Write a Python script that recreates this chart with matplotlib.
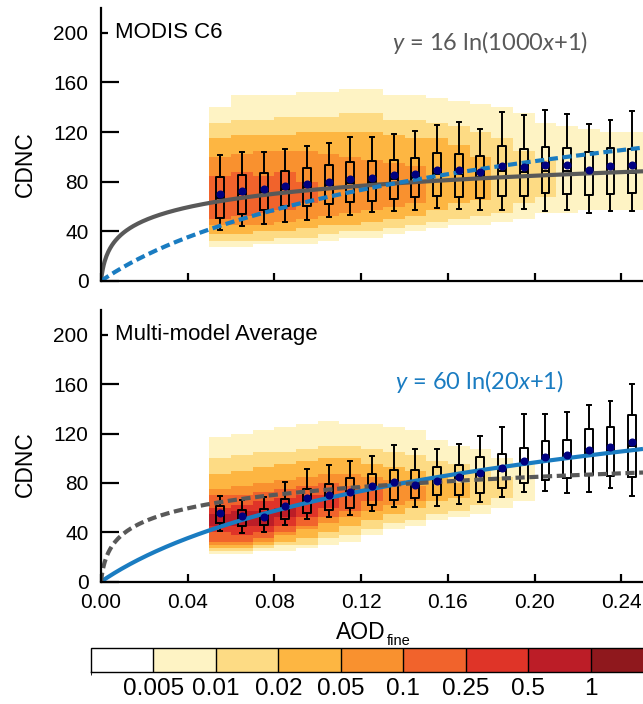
import numpy as np
import matplotlib
matplotlib.use("Agg")
import matplotlib as mpl
import matplotlib.pyplot as plt
from matplotlib.colors import ListedColormap, BoundaryNorm

plt.rcParams['font.family'] = ['Liberation Sans', 'DejaVu Sans']
plt.rcParams['mathtext.fontset'] = 'custom'
plt.rcParams['mathtext.rm'] = 'Lato'
plt.rcParams['mathtext.it'] = 'Lato:italic'

nan = np.nan

# colour classes of the 2D histogram (relative frequency)
cb_bounds = [0, 0.005, 0.01, 0.02, 0.05, 0.1, 0.25, 0.5, 1, 2]
cb_labels = ['0.005', '0.01', '0.02', '0.05', '0.1', '0.25', '0.5', '1']
cb_colors = ['#ffffff', '#fef3c4', '#fddb84', '#fdb642', '#f9912f',
             '#f1632c', '#df3428', '#bc1d27', '#8f181d']

# AOD_fine bins of the histogram / box plots
col_edges = [0.05, 0.06, 0.07, 0.08, 0.09, 0.10, 0.11, 0.12, 0.13, 0.14, 0.15,
             0.16, 0.17, 0.18, 0.19, 0.20, 0.21, 0.22, 0.23, 0.24, 0.25]
box_x = [0.055, 0.065, 0.075, 0.085, 0.095, 0.105, 0.115, 0.125, 0.135, 0.145,
         0.155, 0.165, 0.175, 0.185, 0.195, 0.205, 0.215, 0.225, 0.235, 0.245]

# --- MODIS C6: CDNC range covered by each colour class, per AOD column
top_lo = {
    1: [28, 28, 29, 30, 31, 33, 34, 36, 38, 40, 42, 45, 46, 48, 50, 55, 56, 58, 58, 58],
    2: [32, 32, 33, 34, 35, 37, 39, 40, 43, 45, 48, 50, 52, 55, 62, 68, nan, nan, nan, nan],
    3: [38, 38, 39, 40, 42, 44, 46, 48, 50, 52, 58, 62, 66, nan, nan, nan, nan, nan, nan, nan],
    4: [44, 44, 46, 47, 50, 52, 55, 57, 60, 62, nan, nan, nan, nan, nan, nan, nan, nan, nan, nan],
    5: [50, 52, 55, 58, 62, nan, nan, nan, nan, nan, nan, nan, nan, nan, nan, nan, nan, nan, nan, nan],
}
top_hi = {
    1: [140, 150, 150, 150, 152, 152, 155, 155, 150, 150, 148, 145, 142, 140, 135, 128, 125, 122, 120, 120],
    2: [128, 130, 130, 132, 132, 133, 135, 135, 130, 130, 128, 125, 120, 115, 105, 98, nan, nan, nan, nan],
    3: [115, 117, 118, 118, 120, 120, 120, 120, 118, 115, 115, 110, 100, nan, nan, nan, nan, nan, nan, nan],
    4: [100, 102, 104, 104, 104, 102, 100, 98, 95, 92, nan, nan, nan, nan, nan, nan, nan, nan, nan, nan],
    5: [85, 88, 85, 88, 80, nan, nan, nan, nan, nan, nan, nan, nan, nan, nan, nan, nan, nan, nan, nan],
}
top_whislo = [41.3, 44.0, 46.1, 47.5, 49.4, 51.2, 53.4, 55.3, 56.4, 57.4,
              59.1, 58.0, 57.2, 57.2, 58.0, 56.4, 56.9, 55.0, 56.6, 56.1]
top_q1 = [50.7, 54.2, 57.4, 60.1, 60.7, 62.3, 63.4, 64.7, 66.3, 68.0,
          68.8, 67.7, 67.2, 68.2, 68.8, 70.7, 70.1, 69.6, 70.1, 71.2]
top_med = [67, 70, 72, 74, 76, 77, 79, 80, 82, 83,
           86, 86, 84, 89, 88, 89, 89, 86, 88, 87]
top_mean = [70.1, 72.8, 74.4, 76.3, 78.2, 79.6, 82.0, 83.3, 85.2, 86.0,
            89.8, 89.3, 87.6, 92.8, 92.2, 93.6, 93.6, 89.8, 92.8, 93.6]
top_q3 = [83.6, 85.5, 87.1, 89.0, 90.9, 93.3, 95.7, 96.5, 97.9, 99.2,
          103.3, 102.2, 100.9, 108.7, 106.0, 107.9, 106.8, 103.6, 107.3, 106.0]
top_whishi = [101.9, 103.8, 103.8, 106.0, 108.7, 111.1, 116.0, 116.0, 118.7, 120.6,
              125.4, 128.1, 122.2, 136.5, 133.7, 137.8, 134.8, 126.8, 129.7, 137.0]

# --- Multi-model average
bot_lo = {
    1: [22, 22, 24, 26, 28, 30, 33, 38, 42, 46, 50, 52, 55, 60, 65, nan, nan, nan, nan, nan],
    2: [26, 25, 27, 29, 31, 34, 38, 42, 47, 51, 56, 58, 62, 68, nan, nan, nan, nan, nan, nan],
    3: [28, 27, 30, 33, 36, 40, 45, 50, 55, 60, 64, 68, nan, nan, nan, nan, nan, nan, nan, nan],
    4: [31, 30, 33, 37, 42, 48, 52, 58, 62, 66, nan, nan, nan, nan, nan, nan, nan, nan, nan, nan],
    5: [33, 33, 36, 40, 46, 53, 58, 64, nan, nan, nan, nan, nan, nan, nan, nan, nan, nan, nan, nan],
    6: [39, 37, 40, 45, 52, 60, nan, nan, nan, nan, nan, nan, nan, nan, nan, nan, nan, nan, nan, nan],
    7: [45, 44, 45, 52, nan, nan, nan, nan, nan, nan, nan, nan, nan, nan, nan, nan, nan, nan, nan, nan],
}
bot_hi = {
    1: [118, 120, 122, 125, 128, 130, 128, 128, 125, 122, 115, 110, 108, 100, 95, nan, nan, nan, nan, nan],
    2: [100, 102, 104, 106, 108, 110, 110, 108, 105, 102, 98, 95, 90, 85, nan, nan, nan, nan, nan, nan],
    3: [88, 90, 92, 95, 98, 100, 100, 96, 92, 90, 85, 80, nan, nan, nan, nan, nan, nan, nan, nan],
    4: [76, 78, 80, 83, 86, 88, 88, 86, 82, 78, nan, nan, nan, nan, nan, nan, nan, nan, nan, nan],
    5: [69, 70, 72, 75, 78, 80, 78, 76, nan, nan, nan, nan, nan, nan, nan, nan, nan, nan, nan, nan],
    6: [61, 63, 66, 68, 70, 70, nan, nan, nan, nan, nan, nan, nan, nan, nan, nan, nan, nan, nan, nan],
    7: [55, 57, 58, 60, nan, nan, nan, nan, nan, nan, nan, nan, nan, nan, nan, nan, nan, nan, nan, nan],
}
bot_whislo = [41.3, 39.6, 40.2, 45.9, 50.5, 52.1, 53.7, 57.4, 60.4, 60.4,
              61.5, 62.6, 64.7, 68.8, 72.8, 73.6, 72.0, 72.8, 76.1, 69.6]
bot_q1 = [47.7, 45.1, 45.9, 50.5, 55.8, 58.0, 59.4, 62.3, 65.8, 67.5,
          69.9, 70.1, 72.0, 75.8, 79.6, 82.5, 83.7, 86.3, 85.8, 85.0]
bot_med = [54, 52, 52, 60, 66, 69, 71, 76, 79, 78,
           80, 83, 86, 90, 95, 98, 100, 104, 106, 110]
bot_mean = [55.3, 53.2, 52.6, 61.5, 67.5, 70.1, 72.8, 77.4, 80.9, 78.0,
            81.7, 85.0, 87.7, 91.7, 97.7, 100.9, 102.5, 106.6, 109.0, 113.3]
bot_q3 = [61.2, 58.0, 58.8, 66.7, 75.2, 78.8, 83.7, 87.1, 90.4, 90.4,
          92.8, 94.2, 100.6, 103.1, 108.4, 113.8, 114.4, 123.3, 125.2, 134.9]
bot_whishi = [69.3, 66.1, 68.3, 80.9, 90.9, 94.2, 97.7, 101.9, 110.8, 107.6,
              107.6, 111.4, 117.9, 125.2, 135.4, 135.7, 137.3, 142.7, 146.4, 160.0]

# fitted curves y = a ln(b x + 1)
fit_modis = (16, 1000)
fit_model = (60, 20)

GRAY = '#595959'
BLUE = '#1a7cc1'
W, H = 643, 704

cmap = ListedColormap(cb_colors)
lev_norm = BoundaryNorm(np.arange(-0.5, 9.5, 1), cmap.N)


def level_grid(lo, hi, y_edges):
    yc = 0.5 * (y_edges[:-1] + y_edges[1:])
    grid = np.zeros((len(yc), len(col_edges) - 1))
    for k in sorted(lo):
        for j in range(len(col_edges) - 1):
            if np.isnan(lo[k][j]):
                continue
            grid[(yc >= lo[k][j]) & (yc < hi[k][j]), j] = k
    return np.ma.masked_equal(grid, 0)


def panel(ax, lo, hi, stats, name, eq, eqcolor, solid, dashed, labels):
    y_edges = np.arange(0, 222.5, 2.5)
    ax.pcolormesh(col_edges, y_edges, level_grid(lo, hi, y_edges),
                  cmap=cmap, norm=lev_norm, zorder=1)

    wl, q1, med, mn, q3, wh = stats
    bstats = [dict(whislo=wl[i], q1=q1[i], med=med[i], mean=mn[i], q3=q3[i],
                   whishi=wh[i], fliers=[]) for i in range(len(box_x))]
    lp = dict(color='black', linewidth=1.4)
    ax.bxp(bstats, positions=box_x, widths=0.0036, capwidths=0.0018,
           showmeans=False, showfliers=False, manage_ticks=False,
           boxprops=lp, whiskerprops=lp, capprops=lp, medianprops=lp,
           zorder=3)

    xf = np.linspace(0, 0.25, 600)
    a, b = solid[0]
    ax.plot(xf, a * np.log(b * xf + 1), color=solid[1], lw=3, zorder=4,
            solid_capstyle='butt')
    a, b = dashed[0]
    ax.plot(xf, a * np.log(b * xf + 1), color=dashed[1], lw=3, zorder=4,
            dashes=(2.2, 1.1))
    ax.plot(box_x, mn, 'o', color='#000080', ms=4.8, mec='#000080', zorder=5)

    ax.set_xlim(0, 0.25)
    ax.set_ylim(0, 220)
    ax.set_yticks([0, 40, 80, 120, 160, 200])
    ax.set_xticks([0, 0.04, 0.08, 0.12, 0.16, 0.20, 0.24])
    ax.set_xticklabels(['0.00', '0.04', '0.08', '0.12', '0.16', '0.20', '0.24'])
    if not labels:
        ax.tick_params(axis='x', labelbottom=False)
    for s in ['top', 'right']:
        ax.spines[s].set_visible(False)
    for s in ['left', 'bottom']:
        ax.spines[s].set_linewidth(1.6)
        ax.spines[s].set_zorder(6)
    ax.tick_params(axis='y', direction='in', length=13, width=1.6, labelsize=15, pad=9)
    ax.tick_params(axis='x', direction='in', length=6, width=1.6, labelsize=15, pad=8)

    ax.text(0.0065, 200.5, name, fontsize=16, va='center', ha='left', zorder=7,
            bbox=dict(boxstyle='square,pad=0.3', fc='white', ec='none'))
    ax.text(eq[1], eq[2], eq[0], fontsize=17, family='Lato', color=eqcolor,
            va='center', ha='left', zorder=7)


fig = plt.figure(figsize=(W / 100, H / 100), dpi=100)
ax1 = fig.add_axes([101 / W, 1 - 281 / H, (W - 101) / W, 273 / H])
ax2 = fig.add_axes([101 / W, 1 - 581.7 / H, (W - 101) / W, 271.7 / H])

panel(ax1, top_lo, top_hi,
      (top_whislo, top_q1, top_med, top_mean, top_q3, top_whishi),
      'MODIS C6', (r'$y$ = 16 ln(1000$x$+1)', 0.1343, 192.5), GRAY,
      (fit_modis, GRAY), (fit_model, BLUE), labels=False)
panel(ax2, bot_lo, bot_hi,
      (bot_whislo, bot_q1, bot_med, bot_mean, bot_q3, bot_whishi),
      'Multi-model Average', (r'$y$ = 60 ln(20$x$+1)', 0.1358, 162), BLUE,
      (fit_model, BLUE), (fit_modis, GRAY), labels=True)

fig.text(25 / W, 1 - 164 / H, 'CDNC', rotation=90, fontsize=16.5, ha='center', va='center')
fig.text(25 / W, 1 - 464 / H, 'CDNC', rotation=90, fontsize=16.5, ha='center', va='center')

t = fig.text(361 / W, 1 - 639 / H, 'AOD', fontsize=16.5, ha='center', va='baseline')
ax2.annotate('fine', xy=(1, 0), xycoords=t, xytext=(1, -3), textcoords='offset points',
             fontsize=10.5, va='bottom', ha='left')

cax = fig.add_axes([91 / W, 1 - 672 / H, 562 / W, 24 / H])
cb = mpl.colorbar.ColorbarBase(cax, cmap=cmap, norm=BoundaryNorm(cb_bounds, cmap.N),
                               boundaries=cb_bounds, spacing='uniform',
                               orientation='horizontal', drawedges=True,
                               ticks=cb_bounds[1:-1])
cb.set_ticklabels(cb_labels)
cb.outline.set_linewidth(1.0)
cb.dividers.set_linewidth(1.0)
cax.tick_params(length=0, labelsize=17.5, pad=4)

fig.savefig('out.png', dpi=100)
